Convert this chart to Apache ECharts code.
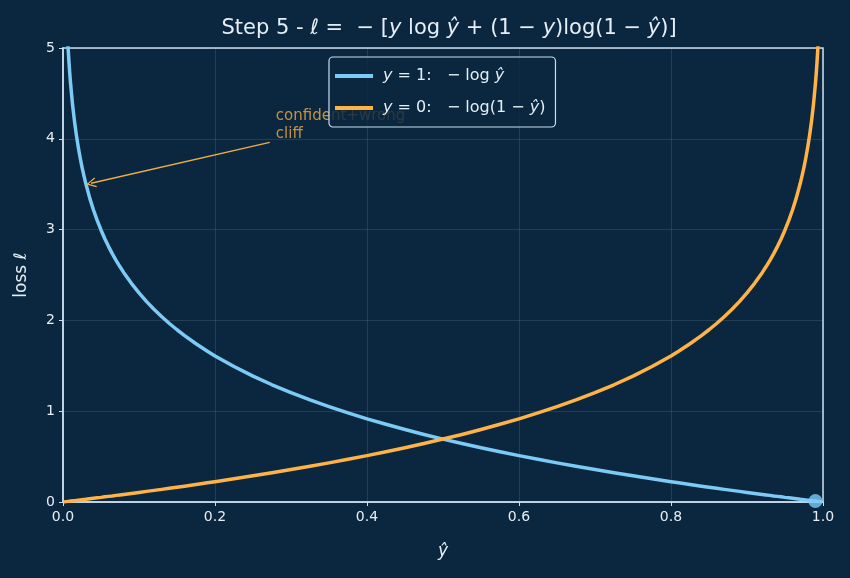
<!DOCTYPE html>
<html><head><meta charset="utf-8">
<script src="https://cdn.jsdelivr.net/npm/echarts@6/dist/echarts.min.js"></script>
<style>html,body{margin:0;padding:0;background:#0b2740;}#c{width:850px;height:578px;}</style>
</head><body><div id="c"></div>
<script>
// predicted probability samples
const yhat = [0.001,0.004,0.005,0.006,0.007,0.008,0.009,0.01,0.0125,0.015,0.0175,0.02,0.0225,0.025,0.0275,0.03,0.035,0.04,0.045,0.05,0.055,0.06,0.065,0.07,0.075,0.08,0.09,0.1,0.11,0.12,0.13,0.14,0.15,0.16,0.175,0.19,0.2,0.225,0.25,0.275,0.3,0.325,0.35,0.375,0.4,0.425,0.45,0.475,0.5,
  0.525,0.55,0.575,0.6,0.625,0.65,0.675,0.7,0.725,0.75,0.775,0.8,0.81,0.825,0.84,0.85,0.86,0.87,0.88,0.89,0.9,0.91,0.92,0.925,0.93,0.935,0.94,0.945,0.95,0.955,0.96,0.965,0.97,0.9725,0.975,0.9775,0.98,0.9825,0.985,0.9875,0.99,0.991,0.992,0.993,0.994,0.995,0.996,0.999];
// loss when y = 1
const lossY1 = [6.908,5.521,5.298,5.116,4.962,4.828,4.710,4.605,4.382,4.200,4.046,3.912,3.794,3.689,3.594,3.507,3.352,3.219,3.101,2.996,2.900,2.813,2.733,2.659,2.590,2.526,2.408,2.303,2.207,2.120,2.040,1.966,1.897,1.833,1.743,1.661,1.609,1.492,1.386,1.291,1.204,1.124,1.050,0.981,0.916,0.856,0.799,0.744,0.693,
  0.644,0.598,0.553,0.511,0.470,0.431,0.393,0.357,0.322,0.288,0.255,0.223,0.211,0.192,0.174,0.163,0.151,0.139,0.128,0.117,0.105,0.094,0.083,0.078,0.073,0.067,0.062,0.057,0.051,0.046,0.041,0.036,0.030,0.028,0.025,0.023,0.020,0.018,0.015,0.013,0.010,0.009,0.008,0.007,0.006,0.005,0.004,0.001];
// loss when y = 0
const lossY0 = [0.001,0.004,0.005,0.006,0.007,0.008,0.009,0.010,0.013,0.015,0.018,0.020,0.023,0.025,0.028,0.030,0.036,0.041,0.046,0.051,0.057,0.062,0.067,0.073,0.078,0.083,0.094,0.105,0.117,0.128,0.139,0.151,0.163,0.174,0.192,0.211,0.223,0.255,0.288,0.322,0.357,0.393,0.431,0.470,0.511,0.553,0.598,0.644,0.693,
  0.744,0.799,0.856,0.916,0.981,1.050,1.124,1.204,1.291,1.386,1.492,1.609,1.661,1.743,1.833,1.897,1.966,2.040,2.120,2.207,2.303,2.408,2.526,2.590,2.659,2.733,2.813,2.900,2.996,3.101,3.219,3.352,3.507,3.594,3.689,3.794,3.912,4.046,4.200,4.382,4.605,4.710,4.828,4.962,5.116,5.298,5.521,6.908];
const xTicks = [0,0.2,0.4,0.6,0.8,1.0];
const yTicks = [0,1,2,3,4,5];
const marker = [[0.99, 0.01]];
const annotText = [0.28, 4.0];
const annotTip = [0.037, 3.51];
const annotTail = [0.272, 3.96];

const BLUE = '#7ccbf7', ORANGE = '#ffb347', FG = '#e6eef5', SPINE = '#c9ddee';
const it = {fontStyle:'italic', fontFamily:'DejaVu Sans', color:FG};

const chart = echarts.init(document.getElementById('c'), null, {renderer:'canvas'});
chart.setOption({
  backgroundColor:'#0b2740',
  animation:false,
  title:{
    text:'Step 5 - {i|ℓ} =  − [{i|y} log {i|ŷ} + (1 − {i|y})log(1 − {i|ŷ})]',
    left:444, top:13, textAlign:'center',
    textStyle:{color:FG, fontSize:21, fontWeight:'normal', fontFamily:'DejaVu Sans',
      rich:{i:Object.assign({fontSize:21}, it)}}
  },
  legend:{
    data:['y1','y0'], orient:'vertical', left:329, top:57,
    icon:'rect', itemWidth:38, itemHeight:4, itemGap:16,
    padding:[11,10,11,6],
    backgroundColor:'rgba(11,39,64,0.82)', borderColor:SPINE, borderWidth:1.2, borderRadius:4,
    formatter: n => n==='y1' ? '{i|y} = 1:   − log {i|ŷ}' : '{i|y} = 0:   − log(1 − {i|ŷ})',
    textStyle:{color:FG, fontSize:16, fontFamily:'DejaVu Sans', padding:[0,0,0,5], rich:{i:Object.assign({fontSize:16}, it)}}
  },
  grid:{left:63, right:27, top:48, bottom:76, show:true, borderColor:SPINE, borderWidth:1.5, backgroundColor:'transparent'},
  xAxis:{
    type:'value', min:0, max:1, interval:0.2,
    name:'ŷ', nameLocation:'middle', nameGap:41,
    nameTextStyle:{color:FG, fontSize:17, fontStyle:'italic', fontFamily:'DejaVu Sans'},
    axisLine:{show:true, lineStyle:{color:SPINE, width:1.5}},
    axisTick:{show:true, length:4, lineStyle:{color:SPINE}},
    axisLabel:{color:FG, fontSize:14, fontFamily:'DejaVu Sans', margin:8,
      formatter: v => xTicks.includes(+v.toFixed(1)) ? v.toFixed(1) : ''},
    splitLine:{show:true, lineStyle:{color:'rgba(255,255,255,0.13)', width:0.8}}
  },
  yAxis:{
    type:'value', min:0, max:5, interval:1,
    name:'loss {i|ℓ}', nameLocation:'middle', nameGap:33, nameRotate:90,
    nameTextStyle:{color:FG, fontSize:17, fontFamily:'DejaVu Sans', rich:{i:Object.assign({fontSize:17}, it)}},
    axisLine:{show:true, lineStyle:{color:SPINE, width:1.5}},
    axisTick:{show:true, length:4, lineStyle:{color:SPINE}},
    axisLabel:{color:FG, fontSize:14, fontFamily:'DejaVu Sans', margin:8,
      formatter: v => yTicks.includes(v) ? String(v) : ''},
    splitLine:{show:true, lineStyle:{color:'rgba(255,255,255,0.13)', width:0.8}}
  },
  series:[
    {name:'y1', type:'line', data:yhat.map((x,i)=>[x,lossY1[i]]), showSymbol:false, clip:true,
      lineStyle:{color:BLUE, width:3.5, join:'round'}, itemStyle:{color:BLUE}, z:3},
    {name:'y0', type:'line', data:yhat.map((x,i)=>[x,lossY0[i]]), showSymbol:false, clip:true,
      lineStyle:{color:ORANGE, width:3.5, join:'round'}, itemStyle:{color:ORANGE}, z:3},
    {name:'marker', type:'scatter', data:marker, symbolSize:14, clip:false,
      itemStyle:{color:BLUE}, z:4},
    {name:'annot', type:'scatter', data:[annotText], symbolSize:0, clip:false, z:2, silent:true,
      label:{show:true, position:'inside', formatter:'confident+wrong\ncliff', align:'left', verticalAlign:'bottom',
        offset:[0,4], color:'#f0ad45', fontSize:15, lineHeight:18, fontFamily:'DejaVu Sans'},
      markLine:{silent:true, symbol:['none','path://M0,10 L5,0 L10,10 L8.8,10.6 L5,2.6 L1.2,10.6 Z'], symbolSize:[10,10],
        label:{show:false}, lineStyle:{color:'#f0ad45', width:1.4, type:'solid'},
        data:[[{coord:annotTail},{coord:annotTip}]]}}
  ]
});
</script></body></html>
